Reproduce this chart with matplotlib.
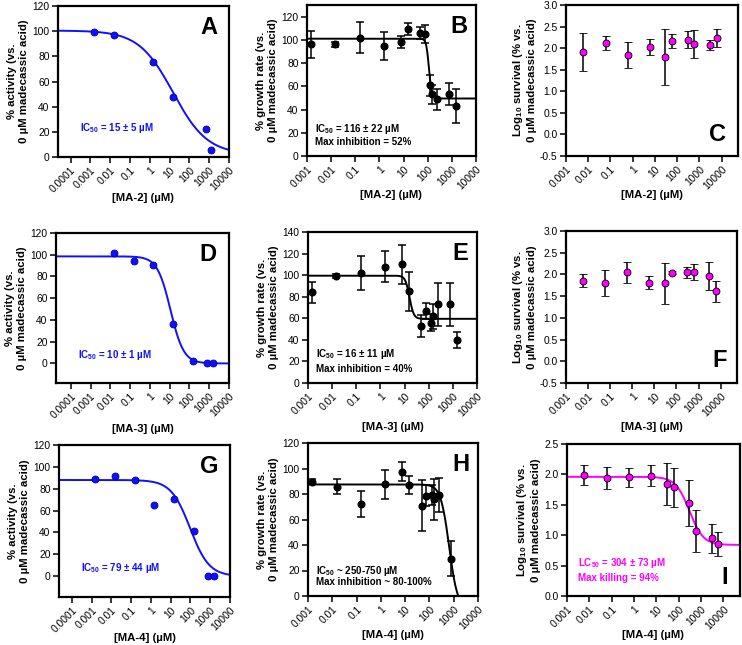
import numpy as np
import matplotlib
matplotlib.use('Agg')
import matplotlib.pyplot as plt
from matplotlib.ticker import NullLocator

plt.rcParams['font.family'] = ['Liberation Sans', 'DejaVu Sans']
plt.rcParams['mathtext.fontset'] = 'custom'
plt.rcParams['mathtext.rm'] = 'Liberation Sans:bold'
plt.rcParams['mathtext.it'] = 'Liberation Sans:bold'
plt.rcParams['mathtext.bf'] = 'Liberation Sans:bold'

# ---- data ----
# enzyme activity (blue)
conc_a = [0.0015, 0.015, 1.5, 14, 700, 1300]
act_a = [99.2, 96.8, 75.6, 47.7, 22.0, 5.3]
fit_a = [100.5, 2.0, 15.0, 0.5]          # top, bottom, IC50, hill

conc_d = [0.015, 0.15, 1.5, 15, 150, 750, 1500]
act_d = [101.7, 94.0, 91.0, 36.6, 1.8, 0.0, 0.0]
fit_d = [98.5, 0.0, 11.0, 1.3]

conc_g = [0.0015, 0.015, 0.15, 1.5, 15, 150, 750, 1500]
act_g = [88.5, 91.6, 88.0, 65.0, 70.8, 41.5, 0.6, 0.0]
fit_g = [88.0, 0.0, 95.0, 0.9]

# growth rate (black)
conc_grow = [0.0015, 0.015, 0.15, 1.5, 7.5, 15, 50, 75, 125, 150, 250, 750, 1500]
grow_b = [96, 96, 102, 95, 98, 109.5, 106, 105, 61, 53, 49, 53, 43]
grow_b_err = [12, 2.5, 13.5, 12, 5, 5, 5, 8, 9, 8, 9, 9.5, 14.5]
fit_b = [101.0, 49.5, 112.0, 8.0]

grow_e = [84, 99, 102, 108, 110, 85, 53, 67, 56, 62, 73, 73, 40]
grow_e_err = [10, 2, 16, 14, 18, 18, 10.5, 7.5, 8, 11.5, 20, 20, 7.5]
fit_e = [99.5, 59.5, 16.0, 5.0]

conc_h = [0.0015, 0.015, 0.15, 1.5, 7.5, 15, 50, 75, 125, 150, 250, 750]
grow_h = [89.8, 85.8, 72, 87.7, 97.6, 87, 70.6, 78.7, 79, 76, 79, 29.4]
grow_h_err = [2, 6, 10, 11.5, 7.5, 7, 20, 8.5, 8, 16, 13.5, 13.5]
fit_h = [87.5, -10.0, 648.0, 2.5]

# log10 survival (magenta)
conc_surv = [0.006, 0.06, 0.6, 6, 30, 60, 300, 600, 3000, 6000]
surv_c = [1.91, 2.12, 1.84, 2.03, 1.80, 2.17, 2.20, 2.09, 2.08, 2.23]
surv_c_err = [0.45, 0.17, 0.31, 0.19, 0.645, 0.165, 0.20, 0.33, 0.115, 0.205]
surv_f = [1.85, 1.80, 2.05, 1.81, 1.80, 2.04, 2.05, 2.05, 1.97, 1.61]
surv_f_err = [0.15, 0.30, 0.24, 0.15, 0.47, 0.03, 0.13, 0.18, 0.32, 0.24]
surv_i = [1.99, 1.94, 1.95, 1.98, 1.84, 1.79, 1.53, 1.07, 0.95, 0.86]
surv_i_err = [0.17, 0.18, 0.15, 0.17, 0.35, 0.32, 0.38, 0.35, 0.24, 0.20]
fit_i = [1.96, 0.84, 300.0, 1.4]

ticks_wide = [0.0001, 0.001, 0.01, 0.1, 1, 10, 100, 1000, 10000]
ticks_narrow = [0.001, 0.01, 0.1, 1, 10, 100, 1000, 10000]
tick_text = {0.0001: '0.0001', 0.001: '0.001', 0.01: '0.01', 0.1: '0.1', 1: '1',
             10: '10', 100: '100', 1000: '1000', 10000: '10000'}

W, H = 742, 645
fig = plt.figure(figsize=(W / 100, H / 100), dpi=100)

BLUE = '#1010ff'
MAG = '#ff00ff'
row_pad = {0: -1.0, 1: 2.5, 2: -1.2}   # x-label gap per row
LAB = 8.2


def make_ax(x0, y0, x1, y1):
    ax = fig.add_axes([x0 / W, 1 - y1 / H, (x1 - x0) / W, (y1 - y0) / H])
    for s in ax.spines.values():
        s.set_linewidth(1.6)
    ax.tick_params(direction='out', length=4, width=1.1, labelsize=7.4, pad=2)
    return ax


def set_logx(ax, xlim, ticks, compound, row):
    ax.set_xscale('log')
    ax.set_xlim(*xlim)
    ax.set_xticks(ticks)
    ax.set_xticklabels([tick_text[t] for t in ticks], rotation=45, ha='right',
                       rotation_mode='anchor')
    ax.xaxis.set_minor_locator(NullLocator())
    ax.set_xlabel(f'[{compound}] (µM)', fontsize=LAB, fontweight='bold', labelpad=row_pad[row])


def curve(ax, xlim, p, color):
    x = np.logspace(np.log10(xlim[0]), np.log10(xlim[1]), 500)
    top, bot, c, h = p
    y = bot + (top - bot) / (1 + (x / c) ** h)
    ax.plot(x, y, color=color, lw=1.4, zorder=2)


def letter(ax, s, x, y):
    ax.text(x, y, s, transform=ax.transAxes, fontsize=17, fontweight='bold',
            ha='center', va='center')


act_label = '% activity (vs.\n0 µM madecassic acid)'
grow_label = '% growth rate (vs.\n0 µM madecassic acid)'
surv_label = 'Log$_{10}$ survival (% vs.\n0 µM madecassic acid)'

# ---- column 1: activity ----
col1 = [
    ('A', (58, 6, 229, 157), (2.3e-5, 1e4), (0, 120), conc_a, act_a, fit_a, 'MA-2', 'IC$_{50}$ = 15 ± 5 µM'),
    ('D', (56, 233, 229, 383), (1.8e-5, 1e4), (-18, 120), conc_d, act_d, fit_d, 'MA-3', 'IC$_{50}$ = 10 ± 1 µM'),
    ('G', (59, 445, 230, 597), (2.2e-5, 1e4), (-19, 120), conc_g, act_g, fit_g, 'MA-4', 'IC$_{50}$ = 79 ± 44 µM'),
]
for row, (name, rect, xl, yl, xs, ys, p, cmp, txt) in enumerate(col1):
    ax = make_ax(*rect)
    curve(ax, xl, p, BLUE)
    ax.plot(xs, ys, 'o', color=BLUE, mec='#0000a0', mew=0.6, ms=5, zorder=3, clip_on=False)
    set_logx(ax, xl, ticks_wide, cmp, row)
    ax.set_ylim(*yl)
    ax.set_yticks(range(0, 121, 20))
    ax.set_ylabel(act_label, fontsize=LAB, fontweight='bold', labelpad=2.5)
    ax.text(0.13, 0.19, txt, transform=ax.transAxes, color=BLUE, fontsize=7,
            fontweight='bold', va='center')
    letter(ax, name, 0.88, 0.86)

# ---- column 2: growth rate ----
col2 = [
    ('B', (307, 5, 476, 156), (0, 130), range(0, 121, 20), conc_grow, grow_b, grow_b_err, fit_b, 'MA-2',
     ['IC$_{50}$ = 116 ± 22 µM', 'Max inhibition = 52%'], (0.18, 0.093)),
    ('E', (308, 232, 477, 383), (0, 140), range(0, 141, 20), conc_grow, grow_e, grow_e_err, fit_e, 'MA-3',
     ['IC$_{50}$ = 16 ± 11 µM', 'Max inhibition = 40%'], (0.19, 0.093)),
    ('H', (308, 443, 478, 596), (0, 120), range(0, 121, 20), conc_h, grow_h, grow_h_err, fit_h, 'MA-4',
     ['IC$_{50}$ ~ 250-750 µM', 'Max inhibition ~ 80-100%'], (0.165, 0.09)),
]
xl2 = (0.001, 10000)
for row, (name, rect, yl, yt, xs, ys, es, p, cmp, txts, ty) in enumerate(col2):
    ax = make_ax(*rect)
    curve(ax, xl2, p, 'black')
    ax.errorbar(xs, ys, yerr=es, fmt='o', color='black', ms=4.8, elinewidth=1.1,
                capsize=2.8, capthick=1.1, zorder=3)
    set_logx(ax, xl2, ticks_narrow, cmp, row)
    ax.set_ylim(*yl)
    ax.set_yticks(list(yt))
    ax.set_ylabel(grow_label, fontsize=LAB, fontweight='bold', labelpad=2.5)
    for t, yy in zip(txts, ty):
        ax.text(0.05, yy, t, transform=ax.transAxes, fontsize=7, fontweight='bold', va='center')
    letter(ax, name, 0.9, 0.86)

# ---- column 3: survival ----
xl3 = (0.001, 5.5e4)
col3 = [
    ('C', (566, 5, 738, 156), (-0.5, 3.0), surv_c, surv_c_err, None, 'MA-2', (0.88, 0.14)),
    ('F', (566, 231, 737, 383), (-0.5, 3.0), surv_f, surv_f_err, None, 'MA-3', (0.9, 0.15)),
    ('I', (567, 444, 740, 596), (0, 2.5), surv_i, surv_i_err, fit_i, 'MA-4', (0.91, 0.125)),
]
for row, (name, rect, yl, ys, es, p, cmp, lp) in enumerate(col3):
    ax = make_ax(*rect)
    if p is not None:
        curve(ax, xl3, p, MAG)
    ax.errorbar(conc_surv, ys, yerr=es, fmt='o', color='black', mfc=MAG, mec='black',
                mew=0.6, ms=5, elinewidth=1.1, capsize=2.8, capthick=1.1, zorder=3)
    set_logx(ax, xl3, ticks_narrow, cmp, row)
    ax.set_ylim(*yl)
    yv = np.arange(yl[0], yl[1] + 0.01, 0.5)
    ax.set_yticks(yv)
    ax.set_yticklabels([f'{v:.1f}' for v in yv])
    ax.set_ylabel(surv_label, fontsize=LAB, fontweight='bold', labelpad=2.5)
    letter(ax, name, *lp)
    if name == 'I':
        ax.text(0.065, 0.22, 'LC$_{50}$ = 304 ± 73 µM', transform=ax.transAxes, color=MAG,
                fontsize=7, fontweight='bold', va='center')
        ax.text(0.065, 0.12, 'Max killing = 94%', transform=ax.transAxes, color=MAG,
                fontsize=7, fontweight='bold', va='center')

fig.savefig('out.png', dpi=100)
